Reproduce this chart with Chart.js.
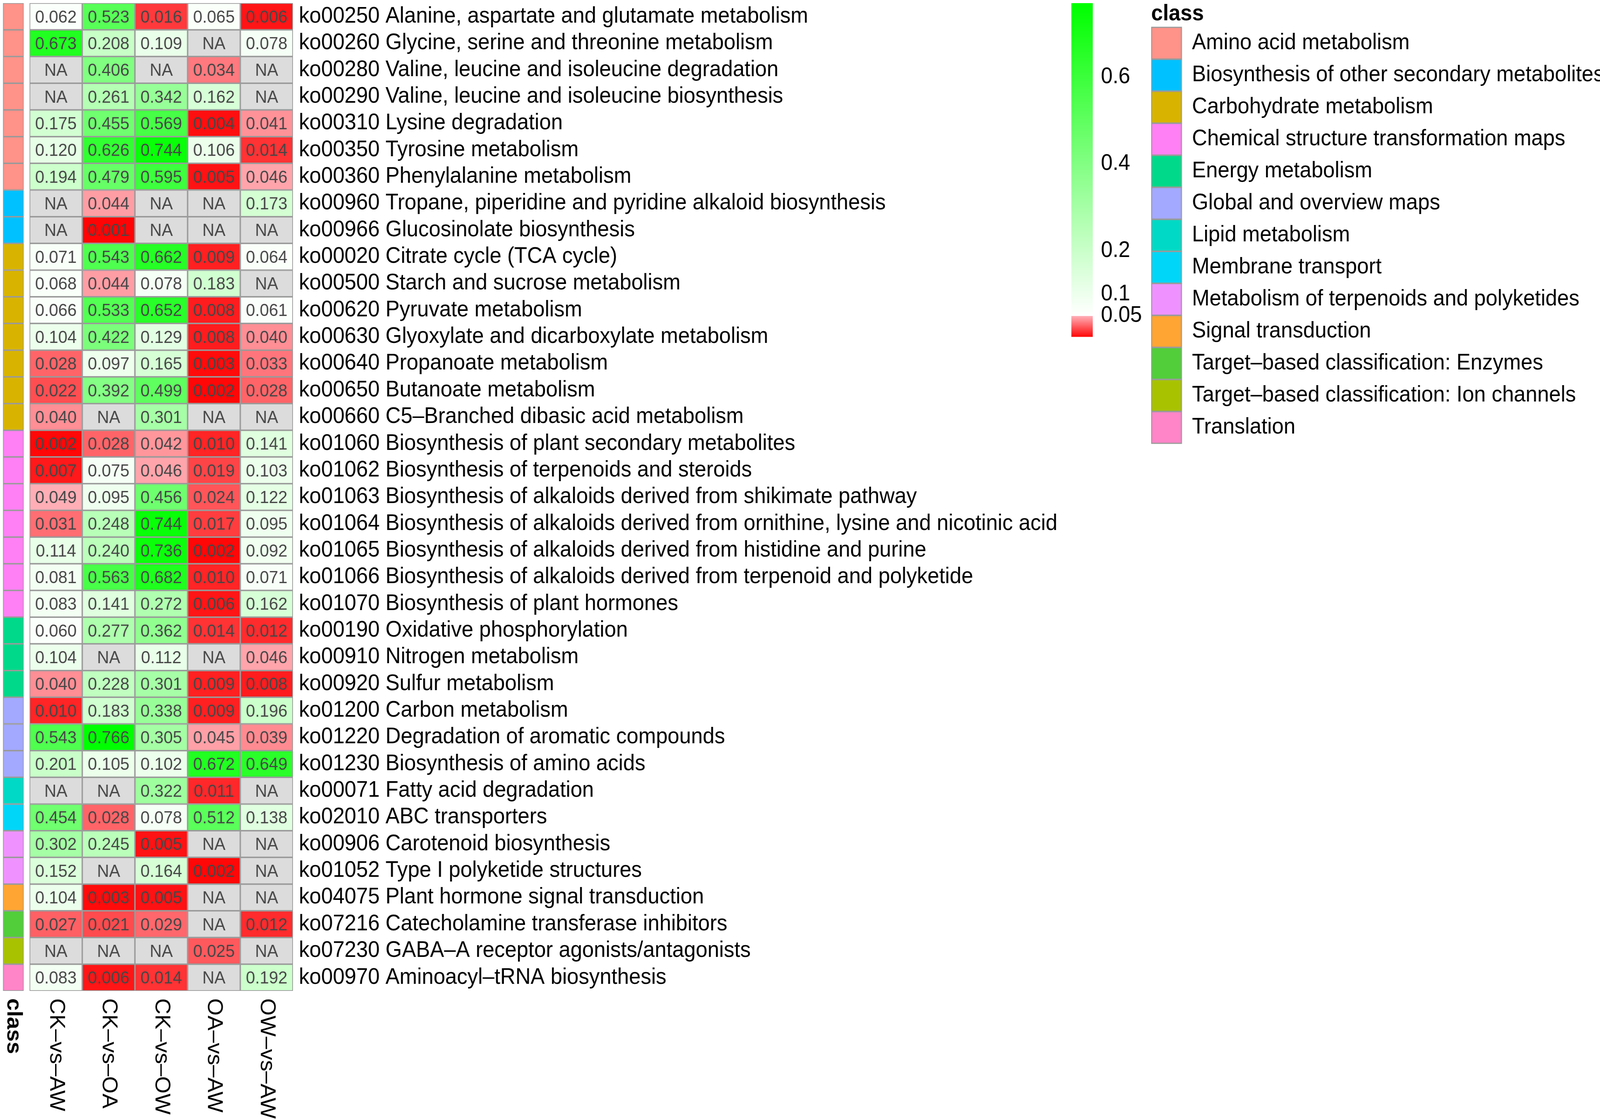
<!DOCTYPE html>
<html>
<head>
<meta charset="utf-8">
<title>KEGG pathway heatmap</title>
<script src="https://cdn.jsdelivr.net/npm/chart.js@4.4.1/dist/chart.umd.min.js"></script>
<style>
  html, body { margin: 0; padding: 0; background: #fff; overflow: hidden; }
  canvas { display: block; }
</style>
</head>
<body>
<!-- drawn at 4331x2865 and stretched to the window -->
<canvas id="heatmap" width="4331" height="2865" style="width:100vw;height:100vh"></canvas>
<script>
// heatmap columns
const comparisons = ['CK–vs–AW', 'CK–vs–OA', 'CK–vs–OW', 'OA–vs–AW', 'OW–vs–AW'];

// heatmap rows (top to bottom)
const pathways = [
  'ko00250 Alanine, aspartate and glutamate metabolism',
  'ko00260 Glycine, serine and threonine metabolism',
  'ko00280 Valine, leucine and isoleucine degradation',
  'ko00290 Valine, leucine and isoleucine biosynthesis',
  'ko00310 Lysine degradation',
  'ko00350 Tyrosine metabolism',
  'ko00360 Phenylalanine metabolism',
  'ko00960 Tropane, piperidine and pyridine alkaloid biosynthesis',
  'ko00966 Glucosinolate biosynthesis',
  'ko00020 Citrate cycle (TCA cycle)',
  'ko00500 Starch and sucrose metabolism',
  'ko00620 Pyruvate metabolism',
  'ko00630 Glyoxylate and dicarboxylate metabolism',
  'ko00640 Propanoate metabolism',
  'ko00650 Butanoate metabolism',
  'ko00660 C5–Branched dibasic acid metabolism',
  'ko01060 Biosynthesis of plant secondary metabolites',
  'ko01062 Biosynthesis of terpenoids and steroids',
  'ko01063 Biosynthesis of alkaloids derived from shikimate pathway',
  'ko01064 Biosynthesis of alkaloids derived from ornithine, lysine and nicotinic acid',
  'ko01065 Biosynthesis of alkaloids derived from histidine and purine',
  'ko01066 Biosynthesis of alkaloids derived from terpenoid and polyketide',
  'ko01070 Biosynthesis of plant hormones',
  'ko00190 Oxidative phosphorylation',
  'ko00910 Nitrogen metabolism',
  'ko00920 Sulfur metabolism',
  'ko01200 Carbon metabolism',
  'ko01220 Degradation of aromatic compounds',
  'ko01230 Biosynthesis of amino acids',
  'ko00071 Fatty acid degradation',
  'ko02010 ABC transporters',
  'ko00906 Carotenoid biosynthesis',
  'ko01052 Type I polyketide structures',
  'ko04075 Plant hormone signal transduction',
  'ko07216 Catecholamine transferase inhibitors',
  'ko07230 GABA–A receptor agonists/antagonists',
  'ko00970 Aminoacyl–tRNA biosynthesis'
];

// class annotation
const classNames = [
  'Amino acid metabolism',
  'Biosynthesis of other secondary metabolites',
  'Carbohydrate metabolism',
  'Chemical structure transformation maps',
  'Energy metabolism',
  'Global and overview maps',
  'Lipid metabolism',
  'Membrane transport',
  'Metabolism of terpenoids and polyketides',
  'Signal transduction',
  'Target–based classification: Enzymes',
  'Target–based classification: Ion channels',
  'Translation'
];
const classColors = [
  '#FF9289', '#00C1FF', '#D8B400', '#FF80F4', '#00D98A', '#A3A9FF', '#00D9C5',
  '#00D6F8', '#EF92FF', '#FFA533', '#52CE3A', '#A8C200', '#FF85C8'
];
// class index of each row
const pathwayClass = [
  0, 0, 0, 0, 0, 0, 0,
  1, 1,
  2, 2, 2, 2, 2, 2, 2,
  3, 3, 3, 3, 3, 3, 3,
  4, 4, 4,
  5, 5, 5,
  6,
  7,
  8, 8,
  9,
  10,
  11,
  12
];

// p values per comparison, null = NA
const ckVsAw = [0.062, 0.673, null, null, 0.175, 0.120, 0.194, null, null, 0.071, 0.068, 0.066, 0.104,
  0.028, 0.022, 0.040, 0.002, 0.007, 0.049, 0.031, 0.114, 0.081, 0.083, 0.060, 0.104, 0.040, 0.010,
  0.543, 0.201, null, 0.454, 0.302, 0.152, 0.104, 0.027, null, 0.083];
const ckVsOa = [0.523, 0.208, 0.406, 0.261, 0.455, 0.626, 0.479, 0.044, 0.001, 0.543, 0.044, 0.533, 0.422,
  0.097, 0.392, null, 0.028, 0.075, 0.095, 0.248, 0.240, 0.563, 0.141, 0.277, null, 0.228, 0.183,
  0.766, 0.105, null, 0.028, 0.245, null, 0.003, 0.021, null, 0.006];
const ckVsOw = [0.016, 0.109, null, 0.342, 0.569, 0.744, 0.595, null, null, 0.662, 0.078, 0.652, 0.129,
  0.165, 0.499, 0.301, 0.042, 0.046, 0.456, 0.744, 0.736, 0.682, 0.272, 0.362, 0.112, 0.301, 0.338,
  0.305, 0.102, 0.322, 0.078, 0.005, 0.164, 0.005, 0.029, null, 0.014];
const oaVsAw = [0.065, null, 0.034, 0.162, 0.004, 0.106, 0.005, null, null, 0.009, 0.183, 0.008, 0.008,
  0.003, 0.002, null, 0.010, 0.019, 0.024, 0.017, 0.002, 0.010, 0.006, 0.014, null, 0.009, 0.009,
  0.045, 0.672, 0.011, 0.512, null, 0.002, null, null, 0.025, null];
const owVsAw = [0.006, 0.078, null, null, 0.041, 0.014, 0.046, 0.173, null, 0.064, null, 0.061, 0.040,
  0.033, 0.028, null, 0.141, 0.103, 0.122, 0.095, 0.092, 0.071, 0.162, 0.012, 0.046, 0.008, 0.196,
  0.039, 0.649, null, 0.138, null, null, null, 0.012, null, 0.192];

const colorbarTicks = [0.6, 0.4, 0.2, 0.1, 0.05];

const pValues = [ckVsAw, ckVsOa, ckVsOw, oaVsAw, owVsAw];
const allP = pValues.flat().filter(v => v !== null);
const minP = Math.min(...allP);
const maxP = Math.max(...allP);
const cutoff = 0.05;

const FONT = '"Liberation Sans", Arial, Helvetica, sans-serif';
Chart.defaults.font.family = FONT;

// red below the 0.05 cut, white to green above it
function cellColor(v) {
  if (v === null) return '#DCDCDC';
  if (v < cutoff) {
    const t = Math.max(0, v / cutoff);
    return `rgb(255,${Math.round(178 * t)},${Math.round(186 * t)})`;
  }
  const t = Math.min(1, (v - cutoff) / (maxP - cutoff));
  const c = Math.round(255 * (1 - t));
  return `rgb(${c},255,${c})`;
}

// x positions of the class strip, in cell units
const stripStart = -0.505;
const stripEnd = -0.112;

const datasets = [{
  label: 'class',
  data: pathways.map(() => [stripStart, stripEnd]),
  backgroundColor: pathwayClass.map(k => classColors[k])
}];
pValues.forEach((col, j) => {
  datasets.push({
    label: comparisons[j],
    data: col.map(() => [j, j + 1]),
    backgroundColor: col.map(cellColor)
  });
});
datasets.forEach(d => {
  d.grouped = false;
  d.categoryPercentage = 1;
  d.barPercentage = 1;
  d.borderWidth = 2.2;
  d.borderColor = '#9A9A9A';
  d.borderSkipped = false;
});

const cellText = {
  id: 'cellText',
  afterDatasetsDraw(chart) {
    const ctx = chart.ctx;
    ctx.save();
    ctx.font = '45px ' + FONT;
    ctx.fillStyle = '#474747';
    ctx.textAlign = 'center';
    ctx.textBaseline = 'middle';
    pValues.forEach((col, j) => {
      const meta = chart.getDatasetMeta(j + 1);
      meta.data.forEach((bar, i) => {
        const v = col[i];
        ctx.fillText(v === null ? 'NA' : v.toFixed(3), (bar.x + bar.base) / 2, bar.y + 3);
      });
    });
    ctx.restore();
  }
};

const columnLabels = {
  id: 'columnLabels',
  afterDraw(chart) {
    const ctx = chart.ctx;
    const xs = chart.scales.x;
    const top = chart.chartArea.bottom + 19;
    ctx.save();
    ctx.fillStyle = '#000';
    ctx.textAlign = 'left';
    ctx.textBaseline = 'middle';
    const put = (text, x) => {
      ctx.save();
      ctx.translate(x, top);
      ctx.rotate(Math.PI / 2);
      ctx.fillText(text, 0, 0);
      ctx.restore();
    };
    ctx.font = 'bold 57px ' + FONT;
    put('class', xs.getPixelForValue((stripStart + stripEnd) / 2));
    ctx.font = '57px ' + FONT;
    comparisons.forEach((name, j) => put(name, xs.getPixelForValue(j + 0.5)));
    ctx.restore();
  }
};

const colorbar = {
  id: 'colorbar',
  afterDraw(chart) {
    const ctx = chart.ctx;
    const left = chart.legend.left - 216;
    const w = 58;
    const top = 8, bottom = 862;
    const vTop = 0.77, vBottom = 0.002;
    const yOf = v => top + (vTop - v) / (vTop - vBottom) * (bottom - top);
    ctx.save();
    for (let py = top; py < bottom; py++) {
      const v = vTop - (py - top + 0.5) / (bottom - top) * (vTop - vBottom);
      ctx.fillStyle = cellColor(v);
      ctx.fillRect(left, py, w, 1.5);
    }
    ctx.fillStyle = '#000';
    ctx.font = '57px ' + FONT;
    ctx.textAlign = 'left';
    ctx.textBaseline = 'middle';
    colorbarTicks.forEach(t => ctx.fillText(String(t), left + w + 22, yOf(t)));
    ctx.restore();
  }
};

new Chart(document.getElementById('heatmap'), {
  type: 'bar',
  data: { labels: pathways, datasets: datasets },
  options: {
    indexAxis: 'y',
    responsive: false,
    devicePixelRatio: 1,
    animation: false,
    events: [],
    layout: { padding: { left: 8, top: 8, right: 0, bottom: 328 } },
    scales: {
      x: {
        type: 'linear',
        min: stripStart,
        max: comparisons.length,
        display: false
      },
      y: {
        type: 'category',
        position: 'right',
        offset: true,
        grid: { display: false, drawTicks: false },
        border: { display: false },
        ticks: { autoSkip: false, padding: 16, color: '#000', font: { size: 57 } },
        afterFit(scale) {
          scale.width = 2323;
          scale.paddingTop = 0;
          scale.paddingBottom = 0;
        }
      }
    },
    plugins: {
      tooltip: { enabled: false },
      legend: {
        position: 'right',
        align: 'start',
        maxWidth: 1215,
        onClick: null,
        title: {
          display: true,
          text: 'class',
          position: 'start',
          color: '#000',
          font: { size: 57, weight: 'bold', lineHeight: 1 },
          padding: { top: 0, bottom: 4 }
        },
        labels: {
          boxWidth: 81,
          boxHeight: 81,
          padding: 1,
          color: '#000',
          font: { size: 57 },
          generateLabels: () => classNames.map((name, i) => ({
            text: name,
            fillStyle: classColors[i],
            strokeStyle: '#9A9A9A',
            lineWidth: 3,
            hidden: false,
            datasetIndex: 0
          }))
        }
      }
    }
  },
  plugins: [cellText, columnLabels, colorbar]
});
</script>
</body>
</html>
